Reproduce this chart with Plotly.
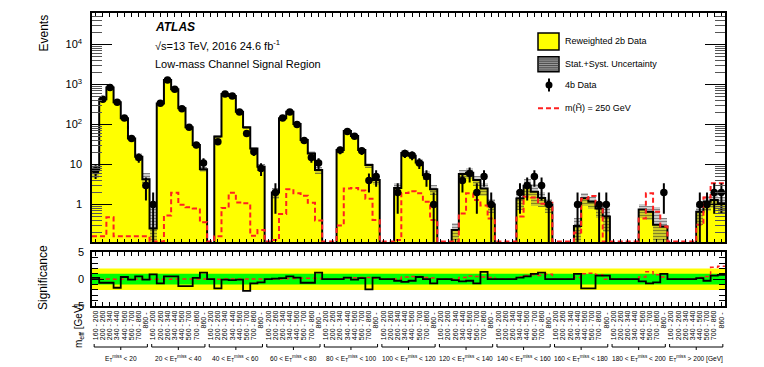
import numpy as np
import plotly.graph_objects as go

# ---------------- data ----------------
mass_bins = ["160 - 200", "200 - 260", "260 - 340", "340 - 440",
             "440 - 560", "560 - 700", "700 - 860", "860 - "]
met_labels = ["E<sub>T</sub><sup>miss</sup> < 20",
              "20 < E<sub>T</sub><sup>miss</sup> < 40",
              "40 < E<sub>T</sub><sup>miss</sup> < 60",
              "60 < E<sub>T</sub><sup>miss</sup> < 80",
              "80 < E<sub>T</sub><sup>miss</sup> < 100",
              "100 < E<sub>T</sub><sup>miss</sup> < 120",
              "120 < E<sub>T</sub><sup>miss</sup> < 140",
              "140 < E<sub>T</sub><sup>miss</sup> < 160",
              "160 < E<sub>T</sub><sup>miss</sup> < 180",
              "180 < E<sub>T</sub><sup>miss</sup> < 200",
              "E<sub>T</sub><sup>miss</sup> > 200 [GeV]"]

# Reweighted 2b data (background), per bin
bkg = [7.5, 430, 850, 359, 143, 45, 15.7, 4.3,
       0.25, 338, 1300, 760, 254, 85, 31, 7.6,
       0, 50, 578, 515, 209, 85, 25, 8.8,
       0, 2.0, 143, 209, 103, 41, 19, 7.3,
       0, 0, 23, 69, 52, 23, 9.7, 4.1,
       0, 0, 2.6, 19.5, 16.5, 11.3, 5.5, 2.4,
       0, 0, 0.23, 5.8, 6.2, 4.1, 2.5, 1.0,
       0, 0, 0, 1.42, 2.95, 2.1, 1.45, 1.0,
       0, 0, 0, 0.29, 1.43, 1.17, 0.8, 0.5,
       0, 0, 0, 0, 0.75, 0.66, 0.31, 0.28,
       0, 0, 0, 0, 0.66, 1.17, 1.3, 1.07]

# Stat.+Syst. uncertainty (absolute)
bkg_err = [3.0, 35, 55, 25, 11, 5, 3.5, 1.7,
           0.9, 22, 70, 45, 16, 6, 3, 1.2,
           0, 5, 30, 28, 12, 6, 2.5, 1.8,
           0, 0.6, 9, 12, 7, 3.5, 2.3, 1.5,
           0, 0, 3.5, 5, 4.2, 2.5, 1.5, 1.0,
           0, 0, 0.8, 3, 2.5, 2.2, 1.4, 0.7,
           0, 0, 0.12, 1.7, 1.9, 1.2, 0.9, 0.4,
           0, 0, 0, 0.7, 1.3, 1.2, 0.6, 0.4,
           0, 0, 0, 0.18, 0.5, 0.4, 0.35, 0.3,
           0, 0, 0, 0, 0.3, 0.25, 0.55, 0.17,
           0, 0, 0, 0, 0.35, 0.5, 0.5, 0.5]

# 4b data counts
data_4b = [7, 430, 850, 360, 145, 45, 15, 3,
           1, 340, 1300, 760, 250, 85, 31, 11,
           0, 37, 580, 520, 205, 60, 21, 8,
           0, 2, 145, 205, 100, 40, 15, 11,
           0, 0, 23, 67, 51, 22, 4, 5,
           0, 0, 2, 19, 17, 11, 5, 1,
           0, 0, 0, 4, 6, 2, 5, 1,
           0, 0, 0, 2, 3, 5, 3, 1,
           0, 0, 0, 1, 0, 0, 1, 1,
           0, 0, 0, 0, 0, 0, 0, 2,
           0, 0, 0, 0, 1, 1, 2, 2]

# Signal m(H~) = 250 GeV
signal = [0.16, 0.16, 0.48, 0.16, 0.16, 0.16, 0.16, 0.16,
          0, 0, 0.53, 1.97, 0.98, 0.85, 0.8, 0.36,
          0, 0.16, 0.82, 1.97, 1.13, 1.07, 0.166, 0.23,
          0, 0.13, 0.58, 2.4, 1.9, 1.66, 1.1, 0.4,
          0, 0, 0.3, 2.5, 2.6, 2.25, 1.4, 0.41,
          0, 0, 0.13, 1.95, 2.15, 1.9, 1.17, 0.41,
          0, 0, 0, 0.6, 1.9, 1.3, 0.95, 0.45,
          0, 0, 0, 0.5, 1.57, 1.5, 1.05, 1.1,
          0, 0, 0, 0.2, 1.4, 1.63, 1.0, 0,
          0, 0, 0, 0, 0.45, 1.9, 0.66, 0.28,
          0, 0, 0, 0, 0.31, 1.5, 3.4, 3.4]

# Significance panel
sig_data = [0.25, -0.67, -0.67, -1.6, 0.4, -0.07, 0.5, -0.07,
            0.9, -0.8, 0.5, 0.5, -1.3, -1.3, 0.25, 1.2,
            0, -1.7, -0.1, -0.2, -0.1, -2.2, -0.8, -0.6,
            0, 0.1, 0.2, 0.5, 0.3, -0.67, -0.67, 1.2,
            0, 0, 0, 0.3, -0.1, 0.2, -1.9, 0.3,
            0, 0, -0.3, -0.5, -0.3, 0.4, 0, -0.8,
            0, 0, -0.2, -0.4, -0.3, -0.8, 1.35, 0,
            0, 0, 0, 0.3, 0.5, 1.0, 1.2, 0,
            0, 0, 0, 1.0, -1.7, -1.7, 0.65, 0.65,
            0, 0, 0, 0, -0.4, -0.8, -0.6, 1.0,
            0, 0, 0, 0, 0.2, -0.3, 0.65, 0.8]

sig_signal = [0, 0, 0.02, 0, 0, 0, 0, 0,
              0, 0, 0, 0.05, 0.03, 0.03, 0.05, 0.05,
              0, 0, 0.02, 0.05, 0.05, 0.05, 0.02, 0.05,
              0, 0.05, 0.02, 0.1, 0.1, 0.15, 0.15, 0.1,
              0, 0, 0.05, 0.2, 0.25, 0.3, 0.3, 0.15,
              0, 0, 0.05, 0.4, 0.5, 0.5, 0.3, 0.2,
              0, 0, 0, 0.3, 0.6, 0.5, 0.4, 0.3,
              0, 0, 0, 0.4, 0.7, 0.8, 0.7, 0.9,
              0, 0, 0, 0.3, 1.0, 1.1, 0.8, 0,
              0, 0, 0, 0, 0.4, 1.4, 0.8, 0.4,
              0, 0, 0, 0, 0.3, 0.5, 2.2, 2.4]

# ---------------- derived ----------------
bkg = np.array(bkg, float)
bkg_err = np.array(bkg_err, float)
data_4b = np.array(data_4b, float)
signal = np.array(signal, float)
n = len(bkg)
centers = np.arange(n) + 0.5
edges = np.arange(n + 1)
ymin_log, ymax_log = -0.945, 4.79
floor_val = 10 ** ymin_log
minor_vals = [k * 10.0 ** d for d in range(-1, 5) for k in range(2, 10)]

FONT = "Liberation Sans, Arial, Helvetica, sans-serif"

fig = go.Figure()

# yellow histogram
fig.add_trace(go.Bar(x=centers, y=np.where(bkg > 0, bkg, np.nan), width=1.0,
                     marker=dict(color="#ffff00", line=dict(width=0)),
                     xaxis="x", yaxis="y", showlegend=False))

# uncertainty band (hatched)
has = bkg > 0
lo = np.maximum(bkg - bkg_err, 1e-3)
hi = bkg + bkg_err
fig.add_trace(go.Bar(x=centers[has], y=(hi - lo)[has], base=lo[has], width=1.0,
                     marker=dict(color="rgba(90,90,90,0.35)", line=dict(width=0),
                                 pattern=dict(shape="-", fgcolor="rgba(30,30,30,0.85)",
                                              bgcolor="rgba(110,110,110,0.35)",
                                              size=3, solidity=0.35)),
                     xaxis="x", yaxis="y", showlegend=False))

# black outline of histogram
step_b = np.where(bkg > 0, bkg, floor_val * 0.5)
fig.add_trace(go.Scatter(x=edges, y=np.append(step_b, step_b[-1]), mode="lines",
                         line=dict(color="black", width=2, shape="hv"),
                         xaxis="x", yaxis="y", showlegend=False))

# signal
step_s = np.maximum(signal, floor_val * 1.04)
fig.add_trace(go.Scatter(x=edges, y=np.append(step_s, step_s[-1]), mode="lines",
                         line=dict(color="#ff2020", width=2, shape="hv", dash="5px,3px"),
                         xaxis="x", yaxis="y", showlegend=False))

# 4b data
m = data_4b > 0
fig.add_trace(go.Scatter(x=centers[m], y=data_4b[m], mode="markers",
                         marker=dict(color="black", size=7.5),
                         error_y=dict(type="data", array=np.sqrt(data_4b[m]),
                                      color="black", thickness=2, width=0),
                         xaxis="x", yaxis="y", showlegend=False))

# invisible trace to carry the minor-tick axis
fig.add_trace(go.Scatter(x=[None], y=[None], xaxis="x", yaxis="y3",
                         showlegend=False, hoverinfo="skip"))

# significance panel
sd = np.array(sig_data, float)
ss = np.array(sig_signal, float)
fig.add_trace(go.Scatter(x=edges, y=np.append(ss, ss[-1]), mode="lines",
                         line=dict(color="#ff2020", width=1.5, shape="hv", dash="4px,3px"),
                         xaxis="x2", yaxis="y2", showlegend=False))
fig.add_trace(go.Scatter(x=edges, y=np.append(sd, sd[-1]), mode="lines",
                         line=dict(color="black", width=1.8, shape="hv"),
                         xaxis="x2", yaxis="y2", showlegend=False))

# ---------------- layout ----------------
# the page body adds an 8px offset; all pixel positions below are window pixels
OFF = 8
W, H = 764 - OFF, 367 - OFF
X0, X1, Y0, Y1 = 92, 725, 13, 306          # plot area in window pixels
ml, mr, mt, mb = X0 - OFF, 764 - X1, Y0 - OFF, 367 - Y1
pw, ph = X1 - X0, Y1 - Y0


def px_x(x):
    return (x - X0) / pw


def px_y(y):
    return 1 - (y - Y0) / ph


top_dom = [px_y(242.3), 1.0]
bot_dom = [0.0, px_y(252.3)]

axis_common = dict(showline=True, linecolor="black", linewidth=1.5, mirror="ticks",
                   ticks="inside", tickcolor="black", showgrid=False, zeroline=False,
                   automargin=False)

fig.update_layout(
    width=W, height=H,
    margin=dict(l=ml, r=mr, t=mt, b=mb, autoexpand=False),
    paper_bgcolor="white", plot_bgcolor="white",
    barmode="overlay", bargap=0,
    font=dict(family=FONT, color="black", size=11),
    showlegend=False,
    xaxis=dict(domain=[0, 1], anchor="y", range=[0, n], tickvals=centers,
               showticklabels=False, ticklen=4, **axis_common),
    yaxis=dict(domain=top_dom, anchor="x", type="log", range=[ymin_log, ymax_log],
               tickmode="array", tickvals=[1, 10, 100, 1000, 10000],
               ticktext=["1", "10", "10<sup>2</sup>", "10<sup>3</sup>", "10<sup>4</sup>"],
               ticklen=20, tickfont=dict(size=11), ticklabelstandoff=6,
               **axis_common),
    yaxis3=dict(overlaying="y", anchor="x", type="log", range=[ymin_log, ymax_log],
                tickmode="array", tickvals=minor_vals, showticklabels=False,
                ticks="inside", ticklen=10, tickcolor="#555", tickwidth=1,
                showline=True, linecolor="black", linewidth=1.5, mirror="ticks",
                showgrid=False, zeroline=False, automargin=False),
    xaxis2=dict(domain=[0, 1], anchor="y2", range=[0, n], tickvals=centers,
                ticktext=[mass_bins[i % 8] for i in range(n)], tickangle=-90,
                tickfont=dict(size=7), ticklen=4, **axis_common),
    yaxis2=dict(domain=bot_dom, anchor="x2", range=[-5, 5], tickvals=[-5, 0, 5],
                ticklen=12, tickfont=dict(size=11), ticklabelstandoff=4,
                minor=dict(ticks="inside", ticklen=6, tickcolor="black", dtick=1),
                **axis_common),
)

shapes = []
# significance bands
shapes.append(dict(type="rect", xref="x2", yref="y2", x0=0, x1=n, y0=-2, y1=2,
                   fillcolor="#ffff00", line=dict(width=0), layer="below"))
shapes.append(dict(type="rect", xref="x2", yref="y2", x0=0, x1=n, y0=-1, y1=1,
                   fillcolor="#00ff00", line=dict(width=0), layer="below"))

# group braces
yb = px_y(347)
yb_up = px_y(344)
yb_dn = px_y(350)
for k in range(len(met_labels)):
    a, b = 8 * k + 0.3, 8 * k + 7.7
    c = 8 * k + 4
    shapes.append(dict(type="line", xref="x2", yref="paper", x0=a, x1=b, y0=yb, y1=yb,
                       line=dict(color="black", width=1)))
    shapes.append(dict(type="line", xref="x2", yref="paper", x0=a, x1=a, y0=yb, y1=yb_up,
                       line=dict(color="black", width=1)))
    shapes.append(dict(type="line", xref="x2", yref="paper", x0=b, x1=b, y0=yb, y1=yb_up,
                       line=dict(color="black", width=1)))
    shapes.append(dict(type="line", xref="x2", yref="paper", x0=c, x1=c, y0=yb, y1=yb_dn,
                       line=dict(color="black", width=1)))

# legend graphics
lx0, lx1 = px_x(538), px_x(559)
shapes.append(dict(type="rect", xref="paper", yref="paper", x0=lx0, x1=lx1,
                   y0=px_y(50), y1=px_y(33), fillcolor="#ffff00",
                   line=dict(color="black", width=1.5)))
shapes.append(dict(type="rect", xref="paper", yref="paper", x0=lx0, x1=lx1,
                   y0=px_y(71.7), y1=px_y(56.7), fillcolor="#9a9a9a",
                   line=dict(color="black", width=1.5)))
for yy in np.arange(59, 71, 2.2):
    shapes.append(dict(type="line", xref="paper", yref="paper", x0=lx0, x1=lx1,
                       y0=px_y(yy), y1=px_y(yy), line=dict(color="#333", width=0.8)))
mx = px_x(549)
shapes.append(dict(type="line", xref="paper", yref="paper", x0=mx, x1=mx,
                   y0=px_y(78.5), y1=px_y(91.5), line=dict(color="black", width=2)))
shapes.append(dict(type="circle", xref="paper", yref="paper",
                   x0=px_x(545.5), x1=px_x(552.5), y0=px_y(88.5), y1=px_y(81.5),
                   fillcolor="black", line=dict(color="black", width=0)))
shapes.append(dict(type="line", xref="paper", yref="paper", x0=lx0, x1=lx1,
                   y0=px_y(108.3), y1=px_y(108.3),
                   line=dict(color="#ff2020", width=2, dash="5px,3px")))
fig.update_layout(shapes=shapes)

ann = []
ann.append(dict(text="Events", xref="paper", yref="paper", x=px_x(43), y=1.0,
                xanchor="center", yanchor="top", textangle=-90, showarrow=False,
                font=dict(size=12)))
ann.append(dict(text="Significance", xref="paper", yref="paper", x=px_x(43), y=px_y(278),
                xanchor="center", yanchor="middle", textangle=-90, showarrow=False,
                font=dict(size=12)))
ann.append(dict(text="m<sub>eff</sub> [GeV]", xref="paper", yref="paper", x=px_x(79),
                y=px_y(326), xanchor="center", yanchor="middle", textangle=-90,
                showarrow=False, font=dict(size=10)))
tx = px_x(153)
ann.append(dict(text="<b><i>ATLAS</i></b>", xref="paper", yref="paper", x=tx, y=px_y(27),
                xanchor="left", yanchor="middle", showarrow=False, font=dict(size=12)))
ann.append(dict(text="\u221As=13 TeV, 2016 24.6 fb<sup>-1</sup>", xref="paper", yref="paper",
                x=tx, y=px_y(45), xanchor="left", yanchor="middle", showarrow=False,
                font=dict(size=11)))
ann.append(dict(text="Low-mass Channel Signal Region", xref="paper", yref="paper",
                x=tx, y=px_y(64), xanchor="left", yanchor="middle", showarrow=False,
                font=dict(size=11)))
ltx = px_x(563)
for txt, yy in [("Reweighted 2b Data", 41), ("Stat.+Syst. Uncertainty", 63.5),
                ("4b Data", 85), ("m(H\u0303) = 250 GeV", 108)]:
    ann.append(dict(text=txt, xref="paper", yref="paper", x=ltx, y=px_y(yy),
                    xanchor="left", yanchor="middle", showarrow=False,
                    font=dict(size=9)))
for k, lab in enumerate(met_labels):
    ann.append(dict(text=lab, xref="x2", yref="paper", x=8 * k + 4, y=px_y(358),
                    xanchor="center", yanchor="middle", showarrow=False,
                    font=dict(size=6.6)))
fig.update_layout(annotations=ann)

fig.write_html("out.html")
